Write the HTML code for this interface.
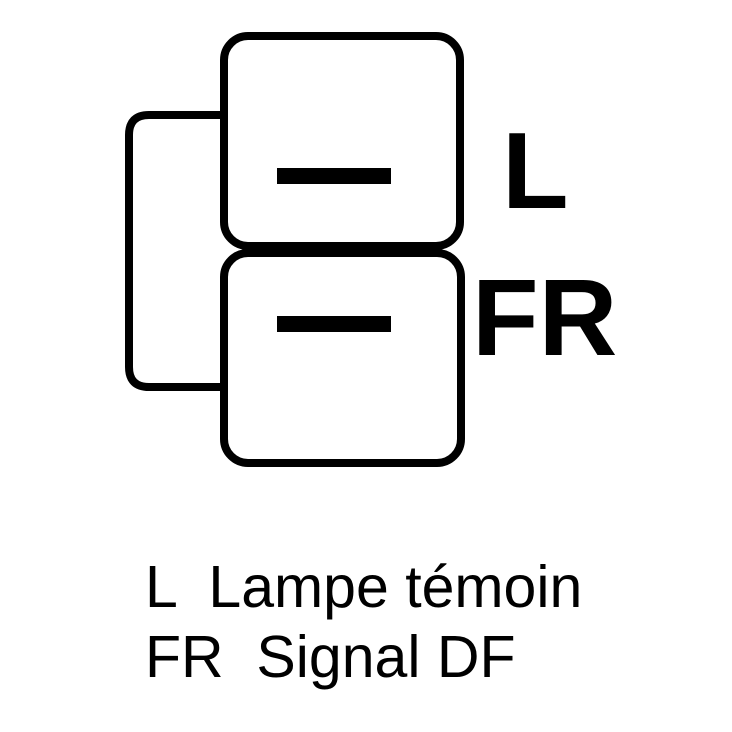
<!DOCTYPE html>
<html><head><meta charset="utf-8"><style>
html,body{margin:0;padding:0;background:#fff;}
body{width:732px;height:732px;position:relative;overflow:hidden;font-family:"Liberation Sans",Arial,sans-serif;}
.t{position:absolute;left:145px;font-size:59px;color:#000;white-space:pre;line-height:1;}
</style></head><body>
<svg width="732" height="732" style="position:absolute;left:0;top:0">
<path d="M224,115 L149,115 Q129,115 129,135 L129,367 Q129,387 149,387 L224,387" fill="none" stroke="#000" stroke-width="8"/>
<rect x="224" y="36" width="236" height="210" rx="24" fill="#fff" stroke="#000" stroke-width="8"/>
<rect x="224" y="253" width="237" height="210" rx="24" fill="#fff" stroke="#000" stroke-width="8"/>
<rect x="277" y="168" width="114" height="16" fill="#000"/>
<rect x="277" y="316" width="114" height="16" fill="#000"/>
<text x="502" y="208" font-family="Liberation Sans,Arial,sans-serif" font-weight="bold" font-size="109">L</text>
<text x="472" y="355" font-family="Liberation Sans,Arial,sans-serif" font-weight="bold" font-size="109">FR</text>
</svg>
<div class="t" style="top:558px">L  Lampe témoin</div>
<div class="t" style="top:628px">FR  Signal DF</div>
</body></html>
